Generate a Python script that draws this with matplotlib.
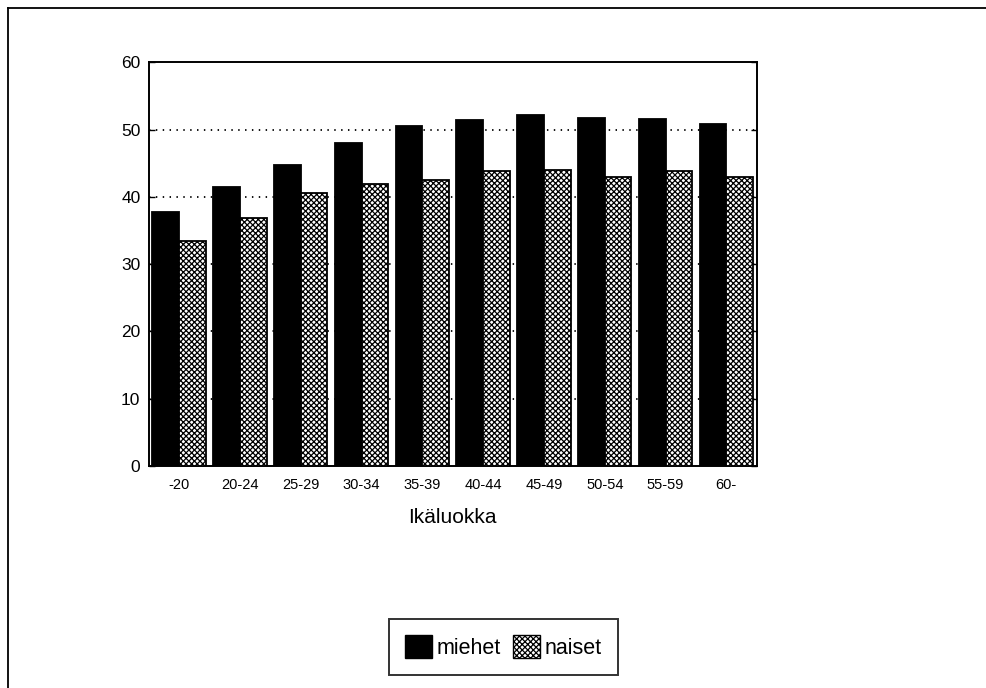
import numpy as np
import matplotlib.pyplot as plt
from matplotlib.patches import Patch
from matplotlib.lines import Line2D

plt.rcParams['font.family'] = ['Liberation Sans', 'DejaVu Sans']
plt.rcParams['hatch.linewidth'] = 0.9

ikaluokat = ['-20', '20-24', '25-29', '30-34', '35-39', '40-44', '45-49', '50-54', '55-59', '60-']
miehet = [37.8, 41.5, 44.7, 48.0, 50.5, 51.4, 52.2, 51.7, 51.6, 50.9]
naiset = [33.5, 36.8, 40.6, 41.9, 42.5, 43.8, 44.0, 43.0, 43.9, 43.0]
y_ticks = [0, 10, 20, 30, 40, 50, 60]

fig = plt.figure(figsize=(9.87, 6.88), dpi=100)
ax = fig.add_axes([0.1507, 0.3227, 0.616, 0.5865])

x = np.arange(len(ikaluokat))
w = 0.44
kuvio = 'xxxxxx'
ax.bar(x - w / 2, miehet, w, color='black', edgecolor='black', linewidth=1.3, zorder=3)
ax.bar(x + w / 2, naiset, w, color='white', edgecolor='black', hatch=kuvio, linewidth=1.3, zorder=3)

for yy in y_ticks[1:-1]:
    ax.axhline(yy, color='black', linewidth=1.3, linestyle=(0, (0.8, 3.0)), zorder=1)

ax.set_xlim(-0.5, len(ikaluokat) - 0.5)
ax.set_ylim(0, 60)
ax.set_yticks(y_ticks)
ax.set_xticks(x)
ax.set_xticklabels(ikaluokat, fontsize=10.5)
ax.tick_params(axis='y', labelsize=12.5, direction='in', right=True, length=4, width=1, pad=6)
ax.tick_params(axis='x', length=0, pad=9)
for s in ax.spines.values():
    s.set_linewidth(1.4)
ax.set_xlabel('Ikäluokka', fontsize=15, labelpad=11)

handles = [Patch(facecolor='black', edgecolor='black'),
           Patch(facecolor='white', edgecolor='black', hatch=kuvio)]
leg = fig.legend(handles, ['miehet', 'naiset'], loc='center', bbox_to_anchor=(0.51, 0.06),
                 ncol=2, fontsize=15.5, frameon=True, fancybox=False, edgecolor='black',
                 handlelength=1.25, handleheight=1.25, handletextpad=0.2, columnspacing=0.6,
                 borderpad=0.75)
leg.get_frame().set_linewidth(1.4)

# frame around the figure (left and top edges)
fig.add_artist(Line2D([0.008, 0.008], [0.0, 0.988], color='black', linewidth=1.3, transform=fig.transFigure))
fig.add_artist(Line2D([0.008, 1.0], [0.988, 0.988], color='black', linewidth=1.3, transform=fig.transFigure))

fig.savefig('out.png', dpi=100)
